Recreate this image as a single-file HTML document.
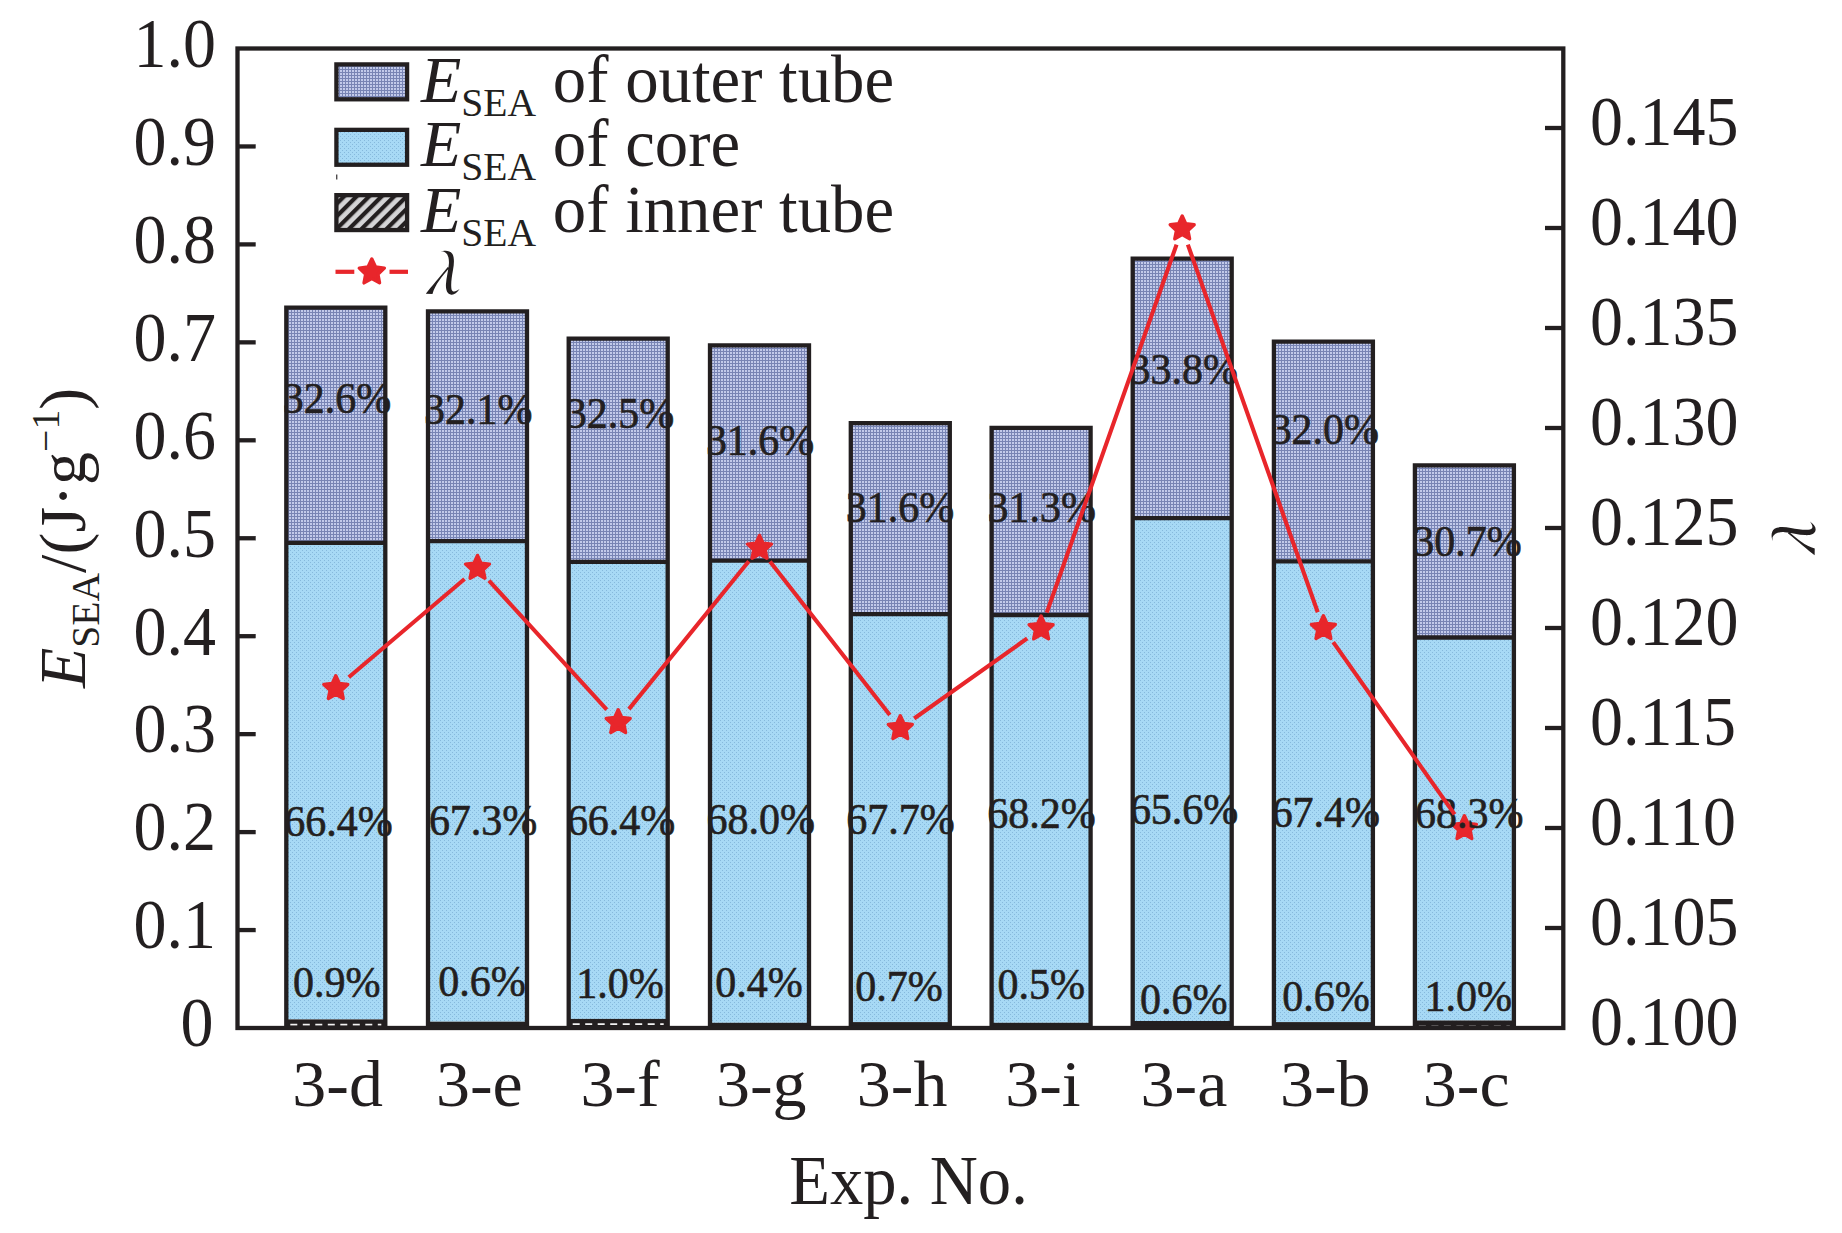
<!DOCTYPE html>
<html><head><meta charset="utf-8"><style>
html,body{margin:0;padding:0;background:#fff;}
svg{display:block;}
text{font-family:"Liberation Serif",serif;fill:#231f20;}
</style></head><body>
<svg width="1842" height="1233" viewBox="0 0 1842 1233">
<defs>
<pattern id="pOuter" patternUnits="userSpaceOnUse" width="3" height="3">
<rect width="3" height="3" fill="#c2caea"/>
<rect x="0" y="0" width="3" height="1" fill="#7884b4"/>
<rect x="0" y="0" width="1" height="3" fill="#7884b4"/>
</pattern>
<pattern id="pCore" patternUnits="userSpaceOnUse" width="4" height="4">
<rect width="4" height="4" fill="#a7d9f5"/>
<rect x="0" y="0" width="1" height="1" fill="#86b9dc"/>
<rect x="2" y="2" width="1" height="1" fill="#86b9dc"/>
</pattern>
<pattern id="pHatch" patternUnits="userSpaceOnUse" width="8.84" height="8.84" patternTransform="rotate(45)">
<rect width="8.84" height="8.84" fill="#d4d4d6"/>
<rect x="0" y="0" width="4.2" height="8.84" fill="#231f20"/>
</pattern>
</defs>
<rect x="0" y="0" width="1842" height="1233" fill="#fff"/>

<rect x="286.30" y="307.60" width="99.00" height="235.30" fill="url(#pOuter)"/>
<rect x="286.30" y="542.90" width="99.00" height="476.50" fill="url(#pCore)"/>
<rect x="286.30" y="1019.40" width="99.00" height="8.60" fill="#231f20"/>
<line x1="290.30" y1="1024.60" x2="381.30" y2="1024.60" stroke="#f2f2f2" stroke-width="1.6" stroke-dasharray="7,5.5"/>
<path d="M286.30,1028.00 V307.60 H385.30 V1028.00 M286.30,542.90 H385.30" fill="none" stroke="#231f20" stroke-width="4.3" stroke-linejoin="miter"/>
<rect x="428.00" y="311.40" width="99.00" height="229.70" fill="url(#pOuter)"/>
<rect x="428.00" y="541.10" width="99.00" height="480.60" fill="url(#pCore)"/>
<rect x="428.00" y="1021.70" width="99.00" height="6.30" fill="#231f20"/>
<path d="M428.00,1028.00 V311.40 H527.00 V1028.00 M428.00,541.10 H527.00" fill="none" stroke="#231f20" stroke-width="4.3" stroke-linejoin="miter"/>
<rect x="568.70" y="338.70" width="99.00" height="223.10" fill="url(#pOuter)"/>
<rect x="568.70" y="561.80" width="99.00" height="457.10" fill="url(#pCore)"/>
<rect x="568.70" y="1018.90" width="99.00" height="9.10" fill="#231f20"/>
<line x1="572.70" y1="1024.10" x2="663.70" y2="1024.10" stroke="#f2f2f2" stroke-width="1.6" stroke-dasharray="7,5.5"/>
<path d="M568.70,1028.00 V338.70 H667.70 V1028.00 M568.70,561.80 H667.70" fill="none" stroke="#231f20" stroke-width="4.3" stroke-linejoin="miter"/>
<rect x="710.00" y="345.40" width="99.00" height="215.30" fill="url(#pOuter)"/>
<rect x="710.00" y="560.70" width="99.00" height="462.10" fill="url(#pCore)"/>
<rect x="710.00" y="1022.80" width="99.00" height="5.20" fill="#231f20"/>
<path d="M710.00,1028.00 V345.40 H809.00 V1028.00 M710.00,560.70 H809.00" fill="none" stroke="#231f20" stroke-width="4.3" stroke-linejoin="miter"/>
<rect x="850.80" y="423.20" width="99.00" height="191.00" fill="url(#pOuter)"/>
<rect x="850.80" y="614.20" width="99.00" height="407.90" fill="url(#pCore)"/>
<rect x="850.80" y="1022.10" width="99.00" height="5.90" fill="#231f20"/>
<path d="M850.80,1028.00 V423.20 H949.80 V1028.00 M850.80,614.20 H949.80" fill="none" stroke="#231f20" stroke-width="4.3" stroke-linejoin="miter"/>
<rect x="991.60" y="427.80" width="99.00" height="187.20" fill="url(#pOuter)"/>
<rect x="991.60" y="615.00" width="99.00" height="407.80" fill="url(#pCore)"/>
<rect x="991.60" y="1022.80" width="99.00" height="5.20" fill="#231f20"/>
<path d="M991.60,1028.00 V427.80 H1090.60 V1028.00 M991.60,615.00 H1090.60" fill="none" stroke="#231f20" stroke-width="4.3" stroke-linejoin="miter"/>
<rect x="1132.70" y="258.60" width="99.00" height="259.50" fill="url(#pOuter)"/>
<rect x="1132.70" y="518.10" width="99.00" height="502.90" fill="url(#pCore)"/>
<rect x="1132.70" y="1021.00" width="99.00" height="7.00" fill="#231f20"/>
<path d="M1132.70,1028.00 V258.60 H1231.70 V1028.00 M1132.70,518.10 H1231.70" fill="none" stroke="#231f20" stroke-width="4.3" stroke-linejoin="miter"/>
<rect x="1273.90" y="341.70" width="99.00" height="219.70" fill="url(#pOuter)"/>
<rect x="1273.90" y="561.40" width="99.00" height="460.70" fill="url(#pCore)"/>
<rect x="1273.90" y="1022.10" width="99.00" height="5.90" fill="#231f20"/>
<path d="M1273.90,1028.00 V341.70 H1372.90 V1028.00 M1273.90,561.40 H1372.90" fill="none" stroke="#231f20" stroke-width="4.3" stroke-linejoin="miter"/>
<rect x="1414.90" y="465.30" width="99.00" height="172.20" fill="url(#pOuter)"/>
<rect x="1414.90" y="637.50" width="99.00" height="383.00" fill="url(#pCore)"/>
<rect x="1414.90" y="1020.50" width="99.00" height="7.50" fill="#231f20"/>
<line x1="1418.90" y1="1026.00" x2="1509.90" y2="1026.00" stroke="#9a9a9a" stroke-width="1" stroke-dasharray="7,5.5"/>
<path d="M1414.90,1028.00 V465.30 H1513.90 V1028.00 M1414.90,637.50 H1513.90" fill="none" stroke="#231f20" stroke-width="4.3" stroke-linejoin="miter"/>
<rect x="237.5" y="48.5" width="1325.80" height="979.50" fill="none" stroke="#231f20" stroke-width="4.3"/>
<line x1="237.5" y1="930.05" x2="255.70" y2="930.05" stroke="#231f20" stroke-width="4.3"/>
<line x1="237.5" y1="832.10" x2="255.70" y2="832.10" stroke="#231f20" stroke-width="4.3"/>
<line x1="237.5" y1="734.15" x2="255.70" y2="734.15" stroke="#231f20" stroke-width="4.3"/>
<line x1="237.5" y1="636.20" x2="255.70" y2="636.20" stroke="#231f20" stroke-width="4.3"/>
<line x1="237.5" y1="538.25" x2="255.70" y2="538.25" stroke="#231f20" stroke-width="4.3"/>
<line x1="237.5" y1="440.30" x2="255.70" y2="440.30" stroke="#231f20" stroke-width="4.3"/>
<line x1="237.5" y1="342.35" x2="255.70" y2="342.35" stroke="#231f20" stroke-width="4.3"/>
<line x1="237.5" y1="244.40" x2="255.70" y2="244.40" stroke="#231f20" stroke-width="4.3"/>
<line x1="237.5" y1="146.45" x2="255.70" y2="146.45" stroke="#231f20" stroke-width="4.3"/>
<line x1="1545.00" y1="928.00" x2="1563.3" y2="928.00" stroke="#231f20" stroke-width="4.3"/>
<line x1="1545.00" y1="828.00" x2="1563.3" y2="828.00" stroke="#231f20" stroke-width="4.3"/>
<line x1="1545.00" y1="728.00" x2="1563.3" y2="728.00" stroke="#231f20" stroke-width="4.3"/>
<line x1="1545.00" y1="628.00" x2="1563.3" y2="628.00" stroke="#231f20" stroke-width="4.3"/>
<line x1="1545.00" y1="528.00" x2="1563.3" y2="528.00" stroke="#231f20" stroke-width="4.3"/>
<line x1="1545.00" y1="428.00" x2="1563.3" y2="428.00" stroke="#231f20" stroke-width="4.3"/>
<line x1="1545.00" y1="328.00" x2="1563.3" y2="328.00" stroke="#231f20" stroke-width="4.3"/>
<line x1="1545.00" y1="228.00" x2="1563.3" y2="228.00" stroke="#231f20" stroke-width="4.3"/>
<line x1="1545.00" y1="128.00" x2="1563.3" y2="128.00" stroke="#231f20" stroke-width="4.3"/>
<polygon points="335.80,675.70 339.33,683.45 347.78,684.41 341.51,690.15 343.21,698.49 335.80,694.30 328.39,698.49 330.09,690.15 323.82,684.41 332.27,683.45" fill="#e8262b" stroke="#e8262b" stroke-width="3.4" stroke-linejoin="round"/>
<polygon points="477.50,555.40 481.03,563.15 489.48,564.11 483.21,569.85 484.91,578.19 477.50,574.00 470.09,578.19 471.79,569.85 465.52,564.11 473.97,563.15" fill="#e8262b" stroke="#e8262b" stroke-width="3.4" stroke-linejoin="round"/>
<polygon points="618.20,709.70 621.73,717.45 630.18,718.41 623.91,724.15 625.61,732.49 618.20,728.30 610.79,732.49 612.49,724.15 606.22,718.41 614.67,717.45" fill="#e8262b" stroke="#e8262b" stroke-width="3.4" stroke-linejoin="round"/>
<polygon points="759.50,535.40 763.03,543.15 771.48,544.11 765.21,549.85 766.91,558.19 759.50,554.00 752.09,558.19 753.79,549.85 747.52,544.11 755.97,543.15" fill="#e8262b" stroke="#e8262b" stroke-width="3.4" stroke-linejoin="round"/>
<polygon points="900.30,715.70 903.83,723.45 912.28,724.41 906.01,730.15 907.71,738.49 900.30,734.30 892.89,738.49 894.59,730.15 888.32,724.41 896.77,723.45" fill="#e8262b" stroke="#e8262b" stroke-width="3.4" stroke-linejoin="round"/>
<polygon points="1041.10,616.00 1044.63,623.75 1053.08,624.71 1046.81,630.45 1048.51,638.79 1041.10,634.60 1033.69,638.79 1035.39,630.45 1029.12,624.71 1037.57,623.75" fill="#e8262b" stroke="#e8262b" stroke-width="3.4" stroke-linejoin="round"/>
<polygon points="1182.20,216.00 1185.73,223.75 1194.18,224.71 1187.91,230.45 1189.61,238.79 1182.20,234.60 1174.79,238.79 1176.49,230.45 1170.22,224.71 1178.67,223.75" fill="#e8262b" stroke="#e8262b" stroke-width="3.4" stroke-linejoin="round"/>
<polygon points="1323.40,615.70 1326.93,623.45 1335.38,624.41 1329.11,630.15 1330.81,638.49 1323.40,634.30 1315.99,638.49 1317.69,630.15 1311.42,624.41 1319.87,623.45" fill="#e8262b" stroke="#e8262b" stroke-width="3.4" stroke-linejoin="round"/>
<polygon points="1464.40,815.70 1467.93,823.45 1476.38,824.41 1470.11,830.15 1471.81,838.49 1464.40,834.30 1456.99,838.49 1458.69,830.15 1452.42,824.41 1460.87,823.45" fill="#e8262b" stroke="#e8262b" stroke-width="3.4" stroke-linejoin="round"/>
<text transform="translate(336.90,412.90) scale(1.0,1.04)" font-size="42" text-anchor="middle" stroke="#231f20" stroke-width="0.6">32.6%</text>
<text transform="translate(338.40,835.90) scale(1.0,1.04)" font-size="42" text-anchor="middle" stroke="#231f20" stroke-width="0.6">66.4%</text>
<text transform="translate(336.68,996.90) scale(1.0,1.04)" font-size="42" text-anchor="middle" stroke="#231f20" stroke-width="0.6">0.9%</text>
<text transform="translate(478.20,423.80) scale(1.0,1.04)" font-size="42" text-anchor="middle" stroke="#231f20" stroke-width="0.6">32.1%</text>
<text transform="translate(483.10,834.50) scale(1.0,1.04)" font-size="42" text-anchor="middle" stroke="#231f20" stroke-width="0.6">67.3%</text>
<text transform="translate(482.05,995.90) scale(1.0,1.04)" font-size="42" text-anchor="middle" stroke="#231f20" stroke-width="0.6">0.6%</text>
<text transform="translate(619.90,427.50) scale(1.0,1.04)" font-size="42" text-anchor="middle" stroke="#231f20" stroke-width="0.6">32.5%</text>
<text transform="translate(621.10,835.00) scale(1.0,1.04)" font-size="42" text-anchor="middle" stroke="#231f20" stroke-width="0.6">66.4%</text>
<text transform="translate(620.05,998.30) scale(1.0,1.04)" font-size="42" text-anchor="middle" stroke="#231f20" stroke-width="0.6">1.0%</text>
<text transform="translate(760.10,455.30) scale(1.0,1.04)" font-size="42" text-anchor="middle" stroke="#231f20" stroke-width="0.6">31.6%</text>
<text transform="translate(760.75,834.30) scale(1.0,1.04)" font-size="42" text-anchor="middle" stroke="#231f20" stroke-width="0.6">68.0%</text>
<text transform="translate(759.05,996.90) scale(1.0,1.04)" font-size="42" text-anchor="middle" stroke="#231f20" stroke-width="0.6">0.4%</text>
<text transform="translate(900.00,522.20) scale(1.0,1.04)" font-size="42" text-anchor="middle" stroke="#231f20" stroke-width="0.6">31.6%</text>
<text transform="translate(900.40,834.30) scale(1.0,1.04)" font-size="42" text-anchor="middle" stroke="#231f20" stroke-width="0.6">67.7%</text>
<text transform="translate(899.00,1001.20) scale(1.0,1.04)" font-size="42" text-anchor="middle" stroke="#231f20" stroke-width="0.6">0.7%</text>
<text transform="translate(1041.75,522.20) scale(1.0,1.04)" font-size="42" text-anchor="middle" stroke="#231f20" stroke-width="0.6">31.3%</text>
<text transform="translate(1041.55,828.40) scale(1.0,1.04)" font-size="42" text-anchor="middle" stroke="#231f20" stroke-width="0.6">68.2%</text>
<text transform="translate(1041.35,998.60) scale(1.0,1.04)" font-size="42" text-anchor="middle" stroke="#231f20" stroke-width="0.6">0.5%</text>
<text transform="translate(1183.70,383.60) scale(1.0,1.04)" font-size="42" text-anchor="middle" stroke="#231f20" stroke-width="0.6">33.8%</text>
<text transform="translate(1184.10,823.60) scale(1.0,1.04)" font-size="42" text-anchor="middle" stroke="#231f20" stroke-width="0.6">65.6%</text>
<text transform="translate(1183.65,1014.30) scale(1.0,1.04)" font-size="42" text-anchor="middle" stroke="#231f20" stroke-width="0.6">0.6%</text>
<text transform="translate(1324.85,444.40) scale(1.0,1.04)" font-size="42" text-anchor="middle" stroke="#231f20" stroke-width="0.6">32.0%</text>
<text transform="translate(1325.85,826.80) scale(1.0,1.04)" font-size="42" text-anchor="middle" stroke="#231f20" stroke-width="0.6">67.4%</text>
<text transform="translate(1326.05,1011.30) scale(1.0,1.04)" font-size="42" text-anchor="middle" stroke="#231f20" stroke-width="0.6">0.6%</text>
<text transform="translate(1467.45,555.50) scale(1.0,1.04)" font-size="42" text-anchor="middle" stroke="#231f20" stroke-width="0.6">30.7%</text>
<text transform="translate(1469.15,827.80) scale(1.0,1.04)" font-size="42" text-anchor="middle" stroke="#231f20" stroke-width="0.6">68.3%</text>
<text transform="translate(1468.30,1010.60) scale(1.0,1.04)" font-size="42" text-anchor="middle" stroke="#231f20" stroke-width="0.6">1.0%</text>
<path d="M348.76,677.30 L464.54,579.00 M488.95,580.56 L606.75,709.74 M628.91,709.09 L748.79,561.21 M769.96,561.40 L889.84,714.90 M914.17,718.48 L1027.23,638.42 M1046.76,612.57 L1176.54,244.63 M1187.86,244.63 L1317.74,612.27 M1333.20,642.19 L1454.60,814.41" fill="none" stroke="#e8262b" stroke-width="4.1"/>
<text transform="translate(213.50,1046.30) scale(1.0,1.045)" font-size="66" text-anchor="end">0</text>
<text transform="translate(216.00,948.35) scale(1.0,1.045)" font-size="66" text-anchor="end">0.1</text>
<text transform="translate(216.00,850.40) scale(1.0,1.045)" font-size="66" text-anchor="end">0.2</text>
<text transform="translate(216.00,752.45) scale(1.0,1.045)" font-size="66" text-anchor="end">0.3</text>
<text transform="translate(216.00,654.50) scale(1.0,1.045)" font-size="66" text-anchor="end">0.4</text>
<text transform="translate(216.00,556.55) scale(1.0,1.045)" font-size="66" text-anchor="end">0.5</text>
<text transform="translate(216.00,458.60) scale(1.0,1.045)" font-size="66" text-anchor="end">0.6</text>
<text transform="translate(216.00,360.65) scale(1.0,1.045)" font-size="66" text-anchor="end">0.7</text>
<text transform="translate(216.00,262.70) scale(1.0,1.045)" font-size="66" text-anchor="end">0.8</text>
<text transform="translate(216.00,164.75) scale(1.0,1.045)" font-size="66" text-anchor="end">0.9</text>
<text transform="translate(216.00,66.80) scale(1.0,1.045)" font-size="66" text-anchor="end">1.0</text>
<text transform="translate(1590.00,1044.50) scale(1.0,1.045)" font-size="66">0.100</text>
<text transform="translate(1590.00,944.50) scale(1.0,1.045)" font-size="66">0.105</text>
<text transform="translate(1590.00,844.50) scale(1.0,1.045)" font-size="66">0.110</text>
<text transform="translate(1590.00,744.50) scale(1.0,1.045)" font-size="66">0.115</text>
<text transform="translate(1590.00,644.50) scale(1.0,1.045)" font-size="66">0.120</text>
<text transform="translate(1590.00,544.50) scale(1.0,1.045)" font-size="66">0.125</text>
<text transform="translate(1590.00,444.50) scale(1.0,1.045)" font-size="66">0.130</text>
<text transform="translate(1590.00,344.50) scale(1.0,1.045)" font-size="66">0.135</text>
<text transform="translate(1590.00,244.50) scale(1.0,1.045)" font-size="66">0.140</text>
<text transform="translate(1590.00,144.50) scale(1.0,1.045)" font-size="66">0.145</text>
<text transform="translate(337.60,1105.50) scale(1.03,1.0)" font-size="66" text-anchor="middle">3-d</text>
<text transform="translate(479.30,1105.50) scale(1.03,1.0)" font-size="66" text-anchor="middle">3-e</text>
<text transform="translate(620.00,1105.50) scale(1.03,1.0)" font-size="66" text-anchor="middle">3-f</text>
<text transform="translate(761.30,1105.50) scale(1.03,1.0)" font-size="66" text-anchor="middle">3-g</text>
<text transform="translate(902.10,1105.50) scale(1.03,1.0)" font-size="66" text-anchor="middle">3-h</text>
<text transform="translate(1042.90,1105.50) scale(1.03,1.0)" font-size="66" text-anchor="middle">3-i</text>
<text transform="translate(1184.00,1105.50) scale(1.03,1.0)" font-size="66" text-anchor="middle">3-a</text>
<text transform="translate(1325.20,1105.50) scale(1.03,1.0)" font-size="66" text-anchor="middle">3-b</text>
<text transform="translate(1466.20,1105.50) scale(1.03,1.0)" font-size="66" text-anchor="middle">3-c</text>
<text transform="translate(908.50,1204.00) scale(1.0,1.04)" font-size="66.6" text-anchor="middle">Exp. No.</text>
<rect x="336.4" y="64.40" width="70.7" height="34.9" fill="url(#pOuter)" stroke="#231f20" stroke-width="4.3"/>
<text x="421" y="101.60" font-size="66"><tspan font-style="italic">E</tspan><tspan font-size="39.6" dy="14">SEA</tspan><tspan dy="-14" font-size="66.8"> of outer tube</tspan></text>
<rect x="336.4" y="129.85" width="70.7" height="34.9" fill="url(#pCore)" stroke="#231f20" stroke-width="4.3"/>
<text x="421" y="165.80" font-size="66"><tspan font-style="italic">E</tspan><tspan font-size="39.6" dy="14">SEA</tspan><tspan dy="-14" font-size="66.8"> of core</tspan></text>
<rect x="336.4" y="195.15" width="70.7" height="34.9" fill="url(#pHatch)" stroke="#231f20" stroke-width="4.3"/>
<text x="421" y="232.10" font-size="66"><tspan font-style="italic">E</tspan><tspan font-size="39.6" dy="14">SEA</tspan><tspan dy="-14" font-size="66.8"> of inner tube</tspan></text>
<line x1="335.5" y1="271.8" x2="354.3" y2="271.8" stroke="#e8262b" stroke-width="4.2"/>
<line x1="389.5" y1="271.8" x2="408" y2="271.8" stroke="#e8262b" stroke-width="4.2"/>
<polygon points="371.80,259.00 375.56,267.02 384.35,268.12 377.89,274.18 379.56,282.88 371.80,278.60 364.04,282.88 365.71,274.18 359.25,268.12 368.04,267.02" fill="#e8262b" stroke="#e8262b" stroke-width="3.4" stroke-linejoin="round"/>
<g transform="translate(415,245) scale(0.04460)"><path d="M560,165 C620,118 770,105 835,195 C885,265 880,420 852,560 C822,720 800,890 818,990 C838,1065 905,1060 1000,988 C935,1078 880,1122 815,1116 C715,1105 688,1000 694,880 C700,740 752,560 760,420 C768,300 742,190 650,152 C618,142 590,150 560,165 Z M735,492 L764,522 C610,700 455,880 392,1096 L242,1094 C350,950 555,720 735,492 Z" fill="#231f20"/></g>
<rect x="336" y="174.5" width="1.4" height="5" fill="#231f20" opacity="0.8"/>
<text transform="translate(85,688) rotate(-90)" x="0" y="0" font-size="66"><tspan font-style="italic">E</tspan><tspan font-size="39.6" dy="14">SEA</tspan><tspan dy="-14">/(J·g</tspan><tspan font-size="39.6" dy="-26">−1</tspan><tspan dy="26">)</tspan></text>
<g transform="translate(1793.5,538.3) rotate(-90) translate(-442.75,-272.65) translate(415,245) scale(0.04460)"><path d="M560,165 C620,118 770,105 835,195 C885,265 880,420 852,560 C822,720 800,890 818,990 C838,1065 905,1060 1000,988 C935,1078 880,1122 815,1116 C715,1105 688,1000 694,880 C700,740 752,560 760,420 C768,300 742,190 650,152 C618,142 590,150 560,165 Z M735,492 L764,522 C610,700 455,880 392,1096 L242,1094 C350,950 555,720 735,492 Z" fill="#231f20"/></g>
</svg></body></html>
